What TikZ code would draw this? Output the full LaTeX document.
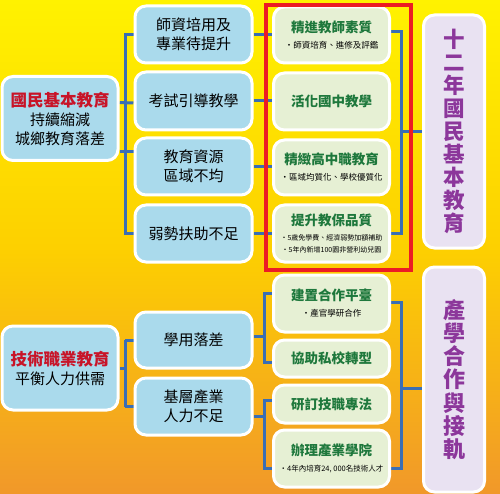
\documentclass[tikz,border=0pt]{standalone}
\usepackage{fontspec}
\setmainfont{Noto Sans CJK TC}
\usetikzlibrary{calc}
\pgfdeclarelayer{bg}
\pgfdeclarelayer{links}
\pgfsetlayers{bg,links,main}
\definecolor{bgtop}{RGB}{255,242,0}
\definecolor{bgmid}{RGB}{253,208,0}
\definecolor{bgbot}{RGB}{241,152,42}
\definecolor{bluefill}{RGB}{170,218,236}
\definecolor{greenfill}{RGB}{230,240,212}
\definecolor{purplefill}{RGB}{233,226,242}
\definecolor{linkblue}{RGB}{58,110,180}
\definecolor{redtitle}{RGB}{200,20,40}
\definecolor{greentitle}{RGB}{30,120,60}
\definecolor{purpletext}{RGB}{140,55,155}
\definecolor{redframe}{RGB}{236,28,36}
\tikzset{
  box/.style={draw=white, line width=3pt, rounded corners=11pt, align=center, inner sep=2pt},
  bluebox/.style={box, fill=bluefill, minimum width=116pt, font=\fontsize{15}{19}\selectfont},
  greenbox/.style={box, fill=greenfill, minimum width=116pt},
  purplebox/.style={box, fill=purplefill, minimum width=61pt, text=purpletext},
  link/.style={draw=linkblue, line width=3pt},
}
\newcommand{\gtitle}[1]{{\fontsize{13.5}{16}\selectfont\bfseries\color{greentitle}#1}}
\newcommand{\gsub}[1]{{\fontsize{8.5}{11}\selectfont #1}}
\newcommand{\gsubs}[1]{{\fontsize{7}{9.5}\selectfont #1}}
\begin{document}
\begin{tikzpicture}[x=1pt,y=-1pt]
\begin{pgfonlayer}{bg}
\shade[top color=bgtop, bottom color=bgbot, middle color=bgmid] (0,0) rectangle (500,494);
\end{pgfonlayer}
\useasboundingbox (0,0) rectangle (500,494);

% left column
\node[bluebox, minimum height=84pt] (L1) at (60,118.5)
  {{\fontsize{16.5}{21}\selectfont\bfseries\color{redtitle}國民基本教育}\\持續縮減\\城鄉教育落差};
\node[bluebox, minimum height=84pt] (L2) at (60,368)
  {{\fontsize{16.5}{21}\selectfont\bfseries\color{redtitle}技術職業教育}\\平衡人力供需};

% second column
\node[bluebox, minimum height=57pt, minimum width=117pt] (B1) at (193.5,34.5) {師資培用及\\專業待提升};
\node[bluebox, minimum height=58pt, minimum width=117pt] (B2) at (193.5,101) {考試引導教學};
\node[bluebox, minimum height=57pt, minimum width=117pt] (B3) at (193.5,166.5) {教育資源\\區域不均};
\node[bluebox, minimum height=57pt, minimum width=117pt] (B4) at (193.5,233.5) {弱勢扶助不足};
\node[bluebox, minimum height=56pt, minimum width=117pt] (B5) at (193.5,340) {學用落差};
\node[bluebox, minimum height=57pt, minimum width=117pt] (B6) at (193.5,406.5) {基層產業\\人力不足};

% third column
\node[greenbox, minimum height=56pt] (G1) at (331.5,35) {\gtitle{精進教師素質}\\[4pt]\gsub{・師資培育、進修及評鑑}};
\node[greenbox, minimum height=57pt] (G2) at (331.5,101.5) {\gtitle{活化國中教學}};
\node[greenbox, minimum height=55pt] (G3) at (331.5,167.5) {\gtitle{精緻高中職教育}\\[4pt]\gsub{・區域均質化、學校優質化}};
\node[greenbox, minimum height=57pt] (G4) at (331.5,233.5) {\gtitle{提升教保品質}\\[3pt]\gsubs{・5歲免學費、經濟弱勢加額補助}\\\gsubs{・5年內新增100園非營利幼兒園}};
\node[greenbox, minimum height=57pt] (G5) at (331.5,303.5) {\gtitle{建置合作平臺}\\[4pt]\gsub{・產官學研合作}};
\node[greenbox, minimum height=37pt] (G6) at (331.5,358.5) {\gtitle{協助私校轉型}};
\node[greenbox, minimum height=38pt] (G7) at (331.5,404) {\gtitle{研訂技職專法}};
\node[greenbox, minimum height=57pt] (G8) at (331.5,458.5) {\gtitle{辦理產業學院}\\[4pt]{\fontsize{7.5}{10}\selectfont ・4年內培育24, 000名技術人才}};

% right column
\node[purplebox, minimum height=233pt, font=\fontsize{21.5}{22.9}\selectfont\bfseries] (P1) at (454,131.5)
  {十\\二\\年\\國\\民\\基\\本\\教\\育};
\node[purplebox, minimum height=225pt, font=\fontsize{22}{23.1}\selectfont\bfseries] (P2) at (454,379.5)
  {產\\學\\合\\作\\與\\接\\軌};

\begin{pgfonlayer}{links}
% connectors: left to second column
\coordinate (xa) at (125,0);
\draw[link] (B1.west) -- (B1.west -| xa) -- (B4.west -| xa) -- (B4.west);
\draw[link] ($(L1.east)+(0,-16)$) -- ($(B2.west)+(0,2)$);
\draw[link] ($(L1.east)+(0,33.5)$) -- (B3.west |- {$(L1.east)+(0,33.5)$});
\draw[link] (B5.west -| xa) -- (B6.west -| xa);
\draw[link] (L2.east) -- (L2.east -| xa);
\draw[link] (B5.west) -- (B5.west -| xa);
\draw[link] (B6.west) -- (B6.west -| xa);

% second to third column
\draw[link] (B1.east) -- (G1.west |- B1.east);
\draw[link] (B2.east) -- (G2.west |- B2.east);
\draw[link] (B3.east) -- (G3.west |- B3.east);
\draw[link] (B4.east) -- (G4.west |- B4.east);
\coordinate (xb) at (264,0);
\draw[link] ($(G5.west)+(0,-10)$) -- ($(G5.west -| xb)+(0,-10)$) -- ($(G6.west -| xb)+(0,4)$) -- ($(G6.west)+(0,4)$);
\draw[link] ($(B5.east)+(0,-4)$) -- ($(B5.east -| xb)+(0,-4)$);
\draw[link] ($(G7.west)+(0,-4)$) -- ($(G7.west -| xb)+(0,-4)$) -- ($(G8.west -| xb)+(0,9.5)$) -- ($(G8.west)+(0,9.5)$);
\draw[link] ($(B6.east)+(0,9.5)$) -- ($(B6.east -| xb)+(0,9.5)$);

% third column to right
\coordinate (xc) at (401,0);
\draw[link] ($(G1.east)+(0,-3)$) -- ($(G1.east -| xc)+(0,-3)$) -- (G4.east -| xc) -- (G4.east);
\draw[link] (P1.west -| xc) -- (P1.west);
\draw[link] ($(G5.east)+(0,-1.5)$) -- ($(G5.east -| xc)+(0,-1.5)$) -- ($(G8.east -| xc)+(0,9.5)$) -- ($(G8.east)+(0,9.5)$);
\draw[link] ($(P2.west -| xc)+(0,8.5)$) -- ($(P2.west)+(0,8.5)$);
\end{pgfonlayer}

% red highlight frame
\node[draw=redframe, line width=4pt, minimum width=145pt, minimum height=265pt, inner sep=0pt] (frame) at (338.5,137.5) {};
\end{tikzpicture}
\end{document}
